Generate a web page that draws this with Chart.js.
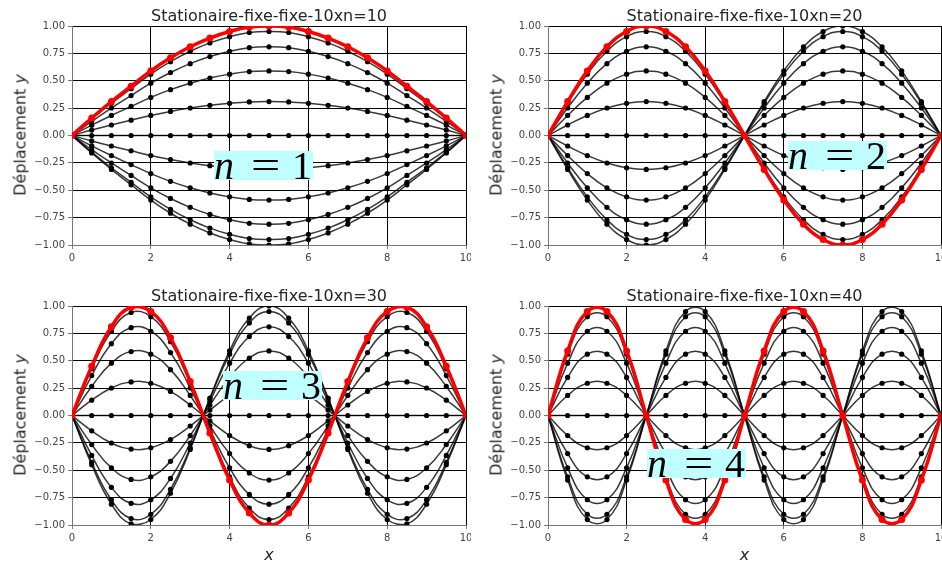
<!DOCTYPE html>
<html lang="fr">
<head>
<meta charset="UTF-8">
<title>Stationaire fixe-fixe</title>
<script src="https://cdn.jsdelivr.net/npm/chart.js@4.4.0/dist/chart.umd.js"></script>
<style>
  * { margin: 0; padding: 0; box-sizing: border-box; }
  body {
    width: 942px;
    height: 561px;
    background: #ffffff;
    position: relative;
    overflow: hidden;
    font-family: 'DejaVu Sans', sans-serif;
  }
  canvas { position: absolute; }
  .title {
    position: absolute;
    font-size: 16px;
    color: #262626;
    white-space: nowrap;
    transform: translate(-50%, -50%);
  }
  .ylabel {
    position: absolute;
    font-size: 16px;
    color: #262626;
    white-space: nowrap;
    transform: translate(-50%, -50%) rotate(-90deg);
  }
  .xlabel {
    position: absolute;
    font-size: 16px;
    font-style: italic;
    color: #262626;
    transform: translate(-50%, -50%);
  }
  .nbox {
    position: absolute;
    width: 99px;
    height: 29px;
    background: rgb(191, 255, 255);
  }
  .nbox span {
    position: absolute;
    top: 0;
    font-family: 'Liberation Serif', serif;
    font-size: 40px;
    line-height: 29px;
    color: #000;
  }
  .cover {
    position: absolute;
    left: 0;
    top: 270px;
    width: 942px;
    height: 10px;
    background: #fff;
  }
</style>
</head>
<body>
<script>
// positions along the string (same for every panel)
const xValues = [0, 0.5, 1, 1.5, 2, 2.5, 3, 3.5, 4, 4.5, 5, 5.5, 6, 6.5, 7, 7.5, 8, 8.5, 9, 9.5, 10];

// mode shapes
const shapeN1 = [0, 0.16, 0.31, 0.45, 0.59, 0.71, 0.81, 0.89, 0.95, 0.99, 1, 0.99, 0.95, 0.89, 0.81, 0.71, 0.59, 0.45, 0.31, 0.16, 0];
const shapeN2 = [0, 0.31, 0.59, 0.81, 0.95, 1, 0.95, 0.81, 0.59, 0.31, 0, -0.31, -0.59, -0.81, -0.95, -1, -0.95, -0.81, -0.59, -0.31, 0];
const shapeN3 = [0, 0.45, 0.81, 0.99, 0.95, 0.71, 0.31, -0.16, -0.59, -0.89, -1, -0.89, -0.59, -0.16, 0.31, 0.71, 0.95, 0.99, 0.81, 0.45, 0];
const shapeN4 = [0, 0.59, 0.95, 0.95, 0.59, 0, -0.59, -0.95, -0.95, -0.59, 0, 0.59, 0.95, 0.95, 0.59, 0, -0.59, -0.95, -0.95, -0.59, 0];

// amplitude of each black snapshot (peak height relative to the red one)
const amplitudes = [1, 0.95, 0.81, 0.59, 0.31, 0, -0.31, -0.59, -0.81, -0.95, -1];

const titles = ['Stationaire-fixe-fixe-10xn=10', 'Stationaire-fixe-fixe-10xn=20',
                'Stationaire-fixe-fixe-10xn=30', 'Stationaire-fixe-fixe-10xn=40'];
const modeLabels = ['1', '2', '3', '4'];
const shapes = [shapeN1, shapeN2, shapeN3, shapeN4];

const yLabelText = 'Déplacement ';
const xLabelText = 'x';

Chart.defaults.font.family = "'DejaVu Sans', sans-serif";
Chart.defaults.font.size = 10;
Chart.defaults.color = '#444444';

const panels = [
  { left: 0,   top: 0,   w: 471, h: 268, padR: 5, padB: 3,  box: [214, 151] },
  { left: 476, top: 0,   w: 466, h: 268, padR: 1, padB: 3,  box: [788, 141] },
  { left: 0,   top: 280, w: 471, h: 281, padR: 5, padB: 16, box: [223, 371] },
  { left: 476, top: 280, w: 466, h: 281, padR: 1, padB: 16, box: [647, 449] }
];

function addDiv(cls, html, x, y) {
  const d = document.createElement('div');
  d.className = cls;
  d.innerHTML = html;
  d.style.left = x + 'px';
  d.style.top = y + 'px';
  document.body.appendChild(d);
  return d;
}

panels.forEach((p, i) => {
  const canvas = document.createElement('canvas');
  canvas.width = p.w;
  canvas.height = p.h;
  canvas.style.left = p.left + 'px';
  canvas.style.top = p.top + 'px';
  canvas.style.width = p.w + 'px';
  canvas.style.height = p.h + 'px';
  document.body.appendChild(canvas);

  const shape = shapes[i];
  const datasets = [{
    data: xValues.map((x, k) => ({ x: x, y: shape[k] })),
    borderColor: '#ff0000',
    backgroundColor: '#ff0000',
    borderWidth: 3.5,
    pointRadius: 3.5,
    pointBorderWidth: 0,
    tension: 0.45
  }];
  amplitudes.forEach(a => {
    datasets.push({
      data: xValues.map((x, k) => ({ x: x, y: a * shape[k] })),
      borderColor: 'rgba(0,0,0,0.78)',
      backgroundColor: '#000000',
      borderWidth: 1.5,
      pointRadius: 2.6,
      pointBorderWidth: 0,
      tension: 0.45
    });
  });

  new Chart(canvas, {
    type: 'line',
    data: { datasets: datasets },
    options: {
      responsive: false,
      animation: false,
      devicePixelRatio: 1,
      layout: { autoPadding: false, padding: { top: 26, left: 0, right: p.padR, bottom: p.padB } },
      plugins: { legend: { display: false }, tooltip: { enabled: false } },
      scales: {
        x: {
          type: 'linear',
          min: 0,
          max: 10,
          ticks: { stepSize: 2, padding: 3, maxRotation: 0, color: '#444444' },
          grid: { color: '#000000', lineWidth: 1, tickLength: 4, tickColor: '#777777' },
          border: { color: '#777777', width: 1 },
          afterFit: s => { s.height = 20; s.paddingLeft = 0; s.paddingRight = 0; }
        },
        y: {
          min: -1,
          max: 1,
          ticks: {
            stepSize: 0.25,
            padding: 3,
            color: '#444444',
            callback: v => (v < 0 ? '\u2212' : '') + Math.abs(v).toFixed(2)
          },
          grid: { color: '#000000', lineWidth: 1, tickLength: 4, tickColor: '#777777' },
          border: { color: '#777777', width: 1 },
          afterFit: s => { s.width = 72; s.paddingTop = 0; s.paddingBottom = 0; }
        }
      }
    }
  });

  const cx = p.left + 72 + (p.w - 72 - p.padR) / 2;
  addDiv('title', titles[i], cx, p.top + 15);
  addDiv('ylabel', yLabelText + '<i>y</i>', p.left + 20, p.top + 135);
  addDiv('xlabel', xLabelText, cx, p.top + 274);

  const box = addDiv('nbox', '', p.box[0], p.box[1]);
  box.innerHTML =
    '<span style="left:0;font-style:italic">n</span>' +
    '<span style="left:37px;transform:scaleX(1.3);transform-origin:left">=</span>' +
    '<span style="left:78px">' + modeLabels[i] + '</span>';
});

// the lower row hides most of the upper x labels, as in the original figure
const cover = document.createElement('div');
cover.className = 'cover';
document.body.insertBefore(cover, document.body.querySelectorAll('canvas')[2]);
</script>
</body>
</html>
